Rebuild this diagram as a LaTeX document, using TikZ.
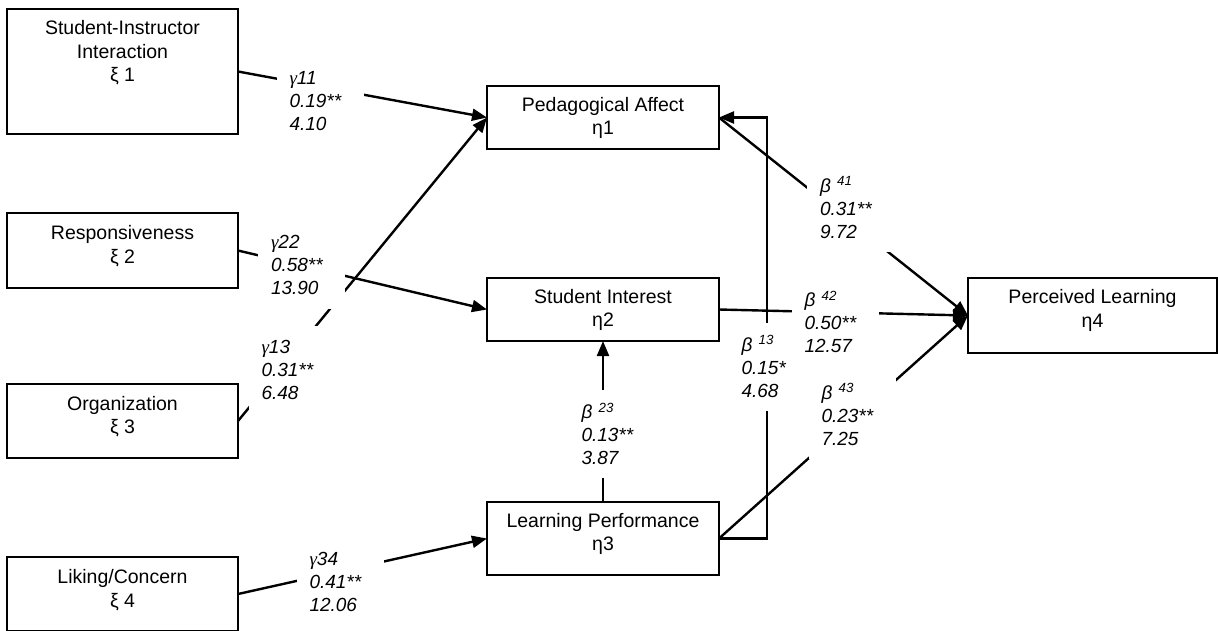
\documentclass[tikz,border=0pt]{standalone}
\usepackage{fontspec}
\setmainfont{Liberation Sans}
\newfontfamily\gamfont{Liberation Serif}
\usetikzlibrary{arrows.meta}
\newcommand{\gm}{{\gamfont\itshape γ}}
\begin{document}
\begin{tikzpicture}[x=1pt,y=-1pt,
  box/.style={draw, line width=1.9pt, inner sep=0pt, outer sep=0pt},
  boxtext/.style={align=center, inner sep=0pt, font=\fontsize{19.5}{23.5}\selectfont},
  path/.style={line width=2.4pt, -{Triangle[length=15pt,width=12pt]}},
  lab/.style={fill=white, inner xsep=13pt, inner ysep=0pt, text width=61pt,
    minimum height=88pt, align=left, font=\fontsize{19}{23}\selectfont\itshape}]
\useasboundingbox (0,0) rectangle (1218,630);
\clip (0,0) rectangle (1218,630);
% boxes
\node[box, minimum width=231pt, minimum height=125pt] (xi1) at (122.5,71.5) {};
\node[box, minimum width=231pt, minimum height=75pt] (xi2) at (122.5,250.5) {};
\node[box, minimum width=231pt, minimum height=74pt] (xi3) at (122.5,421) {};
\node[box, minimum width=231pt, minimum height=74pt] (xi4) at (122.5,594) {};
\node[box, minimum width=232pt, minimum height=63pt] (eta1) at (603,117.5) {};
\node[box, minimum width=232pt, minimum height=63pt] (eta2) at (603,309.5) {};
\node[box, minimum width=232pt, minimum height=73pt] (eta3) at (603,538.5) {};
\node[box, minimum width=249pt, minimum height=75pt] (eta4) at (1092.5,315.5) {};
% box texts
\node[boxtext] (xi1t) at (122.5,53) {Student-Instructor\\Interaction\\ξ 1};
\node[boxtext] (xi2t) at (122.5,246) {Responsiveness\\ξ 2};
\node[boxtext] (xi3t) at (122.5,416.5) {Organization\\ξ 3};
\node[boxtext] (xi4t) at (122.5,590) {Liking/Concern\\ξ 4};
\node[boxtext] (eta1t) at (603,118) {Pedagogical Affect\\η1};
\node[boxtext] (eta2t) at (603,310) {Student Interest\\η2};
\node[boxtext] (eta3t) at (603,534) {Learning Performance\\η3};
\node[boxtext] (eta4t) at (1092.5,310.5) {Perceived Learning\\η4};
% connectors
\draw[path] (xi1.east) -- (eta1.west);
\draw[path] (xi2.east) -- (eta2.west);
\draw[path] (xi3.east) -- (eta1.west);
\draw[path] (xi4.east) -- (eta3.west);
\draw[path] (eta3.north) -- (eta2.south);
\draw[path] (eta3.east) -- ++(48,0) |- (eta1.east);
\draw[path] (eta1.east) -- (eta4.west);
\draw[path] (eta2.east) -- (eta4.west);
\draw[path] (eta3.east) -- (eta4.west);
% labels
\node[lab] (lg11) at (320,101) {\gm11\\0.19**\\4.10};
\node[lab] (lg22) at (301.5,264.5) {\gm22\\0.58**\\13.90};
\node[lab] (lg13) at (292,369.5) {\gm13\\0.31**\\6.48};
\node[lab] (lg34) at (340,581.5) {\gm34\\0.41**\\12.06};
\node[lab] (lb41) at (850.5,207.5) {β \textsuperscript{41}\\0.31**\\9.72};
\node[lab] (lb13) at (772,366.5) {β \textsuperscript{13}\\0.15*\\4.68};
\node[lab, minimum height=100pt] (lb42) at (835,322) {β \textsuperscript{42}\\0.50**\\12.57};
\node[lab] (lb43) at (852,414.5) {β \textsuperscript{43}\\0.23**\\7.25};
\node[lab] (lb23) at (612,434) {β \textsuperscript{23}\\0.13**\\3.87};
\end{tikzpicture}
\end{document}
